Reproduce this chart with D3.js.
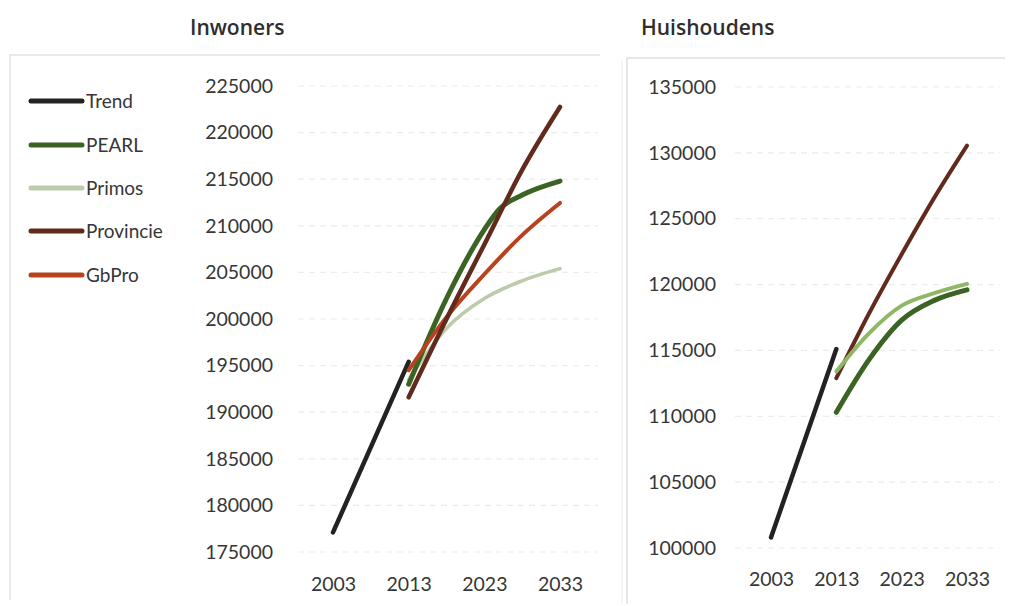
<!DOCTYPE html>
<html>
<head>
<meta charset="utf-8">
<script src="https://cdn.jsdelivr.net/npm/d3@7"></script>
<style>
  html, body { margin: 0; padding: 0; background: #fff; }
  svg { display: block; }
  text { font-family: Lato, "Open Sans", sans-serif; fill: #363636; }
</style>
</head>
<body>
<svg id="chart" width="1015" height="606"></svg>
<script>
// ---------- data ----------
const trendYears = [2003, 2013];
const projYears = [2013, 2018, 2023, 2028, 2033];
const pearlYears = [2013, 2018, 2023, 2025, 2028, 2033];
const xTicks = [2003, 2013, 2023, 2033];

const seriesNames = ["Trend", "PEARL", "Primos", "Provincie", "GbPro"];

// Inwoners
const inwTicks = [175000, 180000, 185000, 190000, 195000, 200000, 205000, 210000, 215000, 220000, 225000];
const inwTrend = [177100, 195400];
const inwPearl = [193000, 202200, 209600, 211800, 213300, 214800];
const inwPrimos = [193500, 199000, 202200, 204100, 205400];
const inwProvincie = [191600, 200000, 208000, 216000, 222750];
const inwGbPro = [194500, 200200, 204800, 209000, 212450];

// Huishoudens
const hhTicks = [100000, 105000, 110000, 115000, 120000, 125000, 130000, 135000];
const hhTrend = [100800, 115100];
const hhPearl = [110300, 114300, 117300, 118800, 119600];
const hhPrimos = [113400, 116300, 118400, 119350, 120050];
const hhProvincie = [112900, 117800, 122300, 126600, 130550];

// ---------- styles ----------
const colors = {
  Trend: "#222222",
  PEARL: "#3b6424",
  Primos: "#bccbaa",
  Provincie: "#62291d",
  GbPro: "#b8421d"
};
const widths = { Trend: 4.5, PEARL: 5, Primos: 3.5, Provincie: 4.5, GbPro: 4 };

const svg = d3.select("#chart");

// panel frames (faint)
svg.append("path").attr("d", "M10,600 L10,55 L600,55")
  .attr("fill", "none").attr("stroke", "#e3e3e3").attr("stroke-width", 1.5);
svg.append("path").attr("d", "M627,604 L627,58 L1005,58")
  .attr("fill", "none").attr("stroke", "#dedede").attr("stroke-width", 1.5);
svg.append("line").attr("x1", 622).attr("x2", 622).attr("y1", 60).attr("y2", 604)
  .attr("stroke", "#ededed").attr("stroke-width", 1);

function panel(cfg) {
  const x = d3.scaleLinear().domain([2003, 2033]).range(cfg.xRange);
  const y = d3.scaleLinear().domain(cfg.yDomain).range(cfg.yRange);
  const g = svg.append("g");

  // title
  g.append("text").attr("x", cfg.titleX).attr("y", 35)
    .style("font-family", "'Open Sans', Lato, sans-serif")
    .style("font-size", "21px").style("font-weight", "600").style("fill", "#2e2e2e")
    .text(cfg.title);

  // gridlines
  g.append("g").selectAll("line").data(cfg.ticks).join("line")
    .attr("x1", cfg.gridX[0]).attr("x2", cfg.gridX[1])
    .attr("y1", d => y(d)).attr("y2", d => y(d))
    .attr("stroke", "#ececec").attr("stroke-width", 1.2).attr("stroke-dasharray", "6,5");

  // y axis
  const ya = g.append("g").attr("transform", `translate(${cfg.yAxisX},0)`)
    .call(d3.axisLeft(y).tickValues(cfg.ticks).tickSize(0).tickPadding(8).tickFormat(d3.format("d")));
  ya.select(".domain").remove();
  ya.selectAll("text").style("font-size", "19.5px").style("font-family", "Lato, sans-serif").attr("fill", "#363636");

  // x axis
  const xa = g.append("g").attr("transform", `translate(0,${cfg.xAxisY})`)
    .call(d3.axisBottom(x).tickValues(xTicks).tickSize(0).tickPadding(10).tickFormat(d3.format("d")));
  xa.select(".domain").remove();
  xa.selectAll("text").style("font-size", "19.5px").style("font-family", "Lato, sans-serif").attr("fill", "#363636");

  const line = d3.line().x(d => x(d[0])).y(d => y(d[1])).curve(d3.curveMonotoneX);
  cfg.series.forEach(s => {
    const pts = s.years.map((yr, i) => [yr, s.values[i]]);
    g.append("path").datum(pts)
      .attr("d", line)
      .attr("fill", "none")
      .attr("stroke", s.color || colors[s.name])
      .attr("stroke-width", s.width || widths[s.name])
      .attr("stroke-linecap", "round")
      .attr("stroke-linejoin", "round");
  });
}

panel({
  title: "Inwoners", titleX: 190,
  xRange: [333, 560], yDomain: [175000, 225000], yRange: [552, 86],
  ticks: inwTicks, gridX: [298, 598], yAxisX: 281, xAxisY: 567,
  series: [
    { name: "Trend", years: trendYears, values: inwTrend },
    { name: "Primos", years: projYears, values: inwPrimos },
    { name: "PEARL", years: pearlYears, values: inwPearl },
    { name: "GbPro", years: projYears, values: inwGbPro },
    { name: "Provincie", years: projYears, values: inwProvincie }
  ]
});

panel({
  title: "Huishoudens", titleX: 641,
  xRange: [771, 967], yDomain: [100000, 135000], yRange: [548, 87],
  ticks: hhTicks, gridX: [735, 1000], yAxisX: 724, xAxisY: 562,
  series: [
    { name: "Trend", years: trendYears, values: hhTrend },
    { name: "Provincie", years: projYears, values: hhProvincie, width: 4 },
    { name: "PEARL", years: projYears, values: hhPearl },
    { name: "Primos", years: projYears, values: hhPrimos, color: "#8fb866", width: 4 }
  ]
});

// legend
const legendY = [101, 145, 188, 231, 275];
const leg = svg.append("g").selectAll("g").data(seriesNames).join("g")
  .attr("transform", (d, i) => `translate(0,${legendY[i]})`);
leg.append("line").attr("x1", 31).attr("x2", 82).attr("y1", 0).attr("y2", 0)
  .attr("stroke", d => colors[d]).attr("stroke-width", 5).attr("stroke-linecap", "round");
leg.append("text").attr("x", 86).attr("dy", "0.36em")
  .style("font-size", "19px").text(d => d);
</script>
</body>
</html>
